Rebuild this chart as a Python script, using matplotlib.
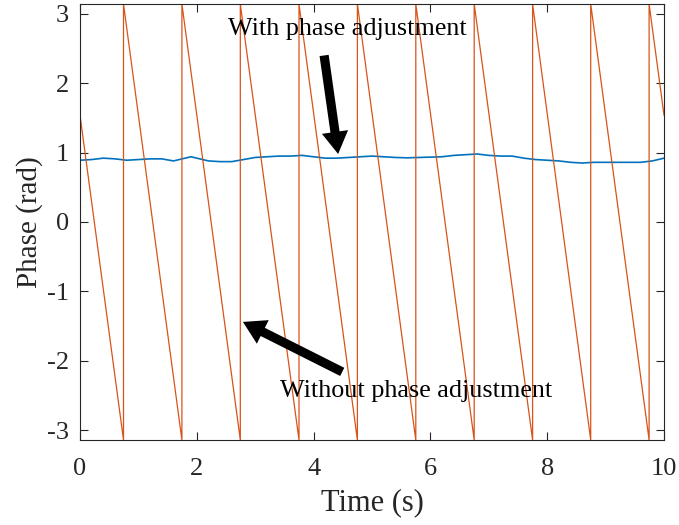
import numpy as np
import matplotlib
matplotlib.use("Agg")
import matplotlib.pyplot as plt

plt.rcParams["font.family"] = ["Liberation Serif", "DejaVu Serif"]

# Phase without adjustment: linear drift of -2*pi rad/s, wrapped into [-pi, pi]
wrap_times = [0.745, 1.745, 2.745, 3.75, 4.75, 5.75, 6.75, 7.75, 8.745, 9.745]
phase_start = 1.54
phase_end = 1.54
t_start, t_end = 0.0, 10.0

# Phase with adjustment (rad), sampled over time
adj_time = [0.0, 0.2, 0.4, 0.6, 0.8, 1.0, 1.2, 1.4, 1.6, 1.8, 1.9, 2.0, 2.2, 2.4,
            2.6, 2.8, 3.0, 3.2, 3.4, 3.6, 3.8, 4.0, 4.2, 4.4, 4.6, 4.8, 5.0, 5.2,
            5.4, 5.6, 5.8, 6.0, 6.2, 6.4, 6.6, 6.8, 7.0, 7.2, 7.4, 7.6, 7.8, 8.0,
            8.2, 8.4, 8.6, 8.8, 9.0, 9.2, 9.4, 9.6, 9.8, 10.0]
adj_phase = [0.89, 0.90, 0.92, 0.91, 0.89, 0.90, 0.91, 0.91, 0.88, 0.92, 0.94,
             0.92, 0.88, 0.87, 0.87, 0.90, 0.93, 0.94, 0.95, 0.95, 0.96, 0.94,
             0.92, 0.92, 0.93, 0.94, 0.95, 0.94, 0.93, 0.925, 0.93, 0.935, 0.94,
             0.96, 0.97, 0.98, 0.96, 0.95, 0.95, 0.92, 0.90, 0.89, 0.88, 0.86,
             0.85, 0.86, 0.86, 0.86, 0.86, 0.86, 0.88, 0.92]

xticks = [0, 2, 4, 6, 8, 10]
yticks = [-3, -2, -1, 0, 1, 2, 3]

# Build wrapped sawtooth vertices
saw_t = [t_start]
saw_p = [phase_start]
for tj in wrap_times:
    saw_t += [tj, tj]
    saw_p += [-np.pi, np.pi]
saw_t.append(t_end)
saw_p.append(phase_end)

fig = plt.figure(figsize=(6.79, 5.25), dpi=100)
ax = fig.add_axes([80 / 679, 85 / 525, 584 / 679, 436 / 525])

ax.plot(adj_time, adj_phase, color="#0072BD", lw=1.2)
ax.plot(saw_t, saw_p, color="#D95319", lw=0.9)

ax.set_xlim(0, 10)
ax.set_ylim(-np.pi, np.pi)
ax.set_xticks(xticks)
ax.set_yticks(yticks)
ax.set_xticklabels([str(v) for v in xticks])
ax.set_yticklabels([str(v) for v in yticks])

axc = "#262626"
for s in ax.spines.values():
    s.set_color(axc)
    s.set_linewidth(0.8)
ax.tick_params(direction="in", top=True, right=True, length=6, width=0.8,
               colors=axc, labelsize=19)
ax.tick_params(axis="x", pad=13)
ax.tick_params(axis="y", pad=8)
ax.set_xlabel("Time (s)", fontsize=22, color=axc, labelpad=6)
ax.set_ylabel("Phase (rad)", fontsize=21, color=axc, labelpad=3)

ax.text(4.57, 2.69, "With phase adjustment", fontsize=18.8, ha="center",
        va="baseline", color="black")
ax.text(5.76, -2.52, "Without phase adjustment", fontsize=18.8, ha="center",
        va="baseline", color="black")

arrow_style = dict(arrowstyle="simple,head_length=0.8,head_width=0.95,tail_width=0.33",
                   mutation_scale=20, color="black", lw=0, shrinkA=0, shrinkB=0)
ax.annotate("", xy=(4.42, 0.98), xytext=(4.18, 2.40), arrowprops=arrow_style)
ax.annotate("", xy=(2.79, -1.44), xytext=(4.49, -2.16), arrowprops=arrow_style)

fig.savefig("out.png", dpi=100)
